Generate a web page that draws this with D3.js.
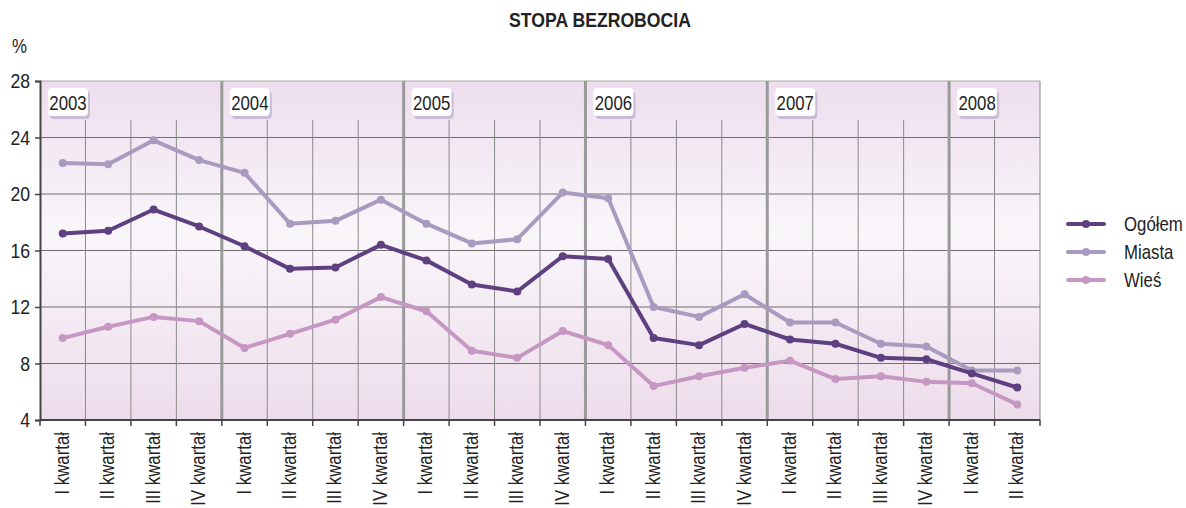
<!DOCTYPE html>
<html><head><meta charset="utf-8">
<script src="https://cdn.jsdelivr.net/npm/d3@7"></script>
<style>
body{margin:0;background:#fff;}
svg{display:block;}
text{font-family:"Liberation Sans",Arial,sans-serif;fill:#222;}
</style></head>
<body><svg id="chart" width="1186" height="508"></svg>
<script>
const years = ["2003","2004","2005","2006","2007","2008"];
const quarterLabels = ["I kwartał","II kwartał","III kwartał","IV kwartał"];
const categories = [
 "2003 I","2003 II","2003 III","2003 IV",
 "2004 I","2004 II","2004 III","2004 IV",
 "2005 I","2005 II","2005 III","2005 IV",
 "2006 I","2006 II","2006 III","2006 IV",
 "2007 I","2007 II","2007 III","2007 IV",
 "2008 I","2008 II"];
const ogolem = [17.2,17.4,18.9,17.7, 16.3,14.7,14.8,16.4, 15.3,13.6,13.1,15.6, 15.4,9.8,9.3,10.8, 9.7,9.4,8.4,8.3, 7.3,6.3];
const miasta = [22.2,22.1,23.8,22.4, 21.5,17.9,18.1,19.6, 17.9,16.5,16.8,20.1, 19.7,12.0,11.3,12.9, 10.9,10.9,9.4,9.2, 7.5,7.5];
const wies   = [9.8,10.6,11.3,11.0, 9.1,10.1,11.1,12.7, 11.7,8.9,8.4,10.3, 9.3,6.4,7.1,7.7, 8.2,6.9,7.1,6.7, 6.6,5.1];
const yTicks = [4,8,12,16,20,24,28];
const seriesNames = ["Ogółem","Miasta","Wieś"];
const seriesColors = ["#5e4080","#a99bc0","#c697c2"];

const svg = d3.select("#chart");
const L=40, R=1040, T=81, B=420;
const x = d3.scaleBand().domain(categories).range([L,R]).padding(0);
const y = d3.scaleLinear().domain([4,28]).range([B,T]);
const SX = 0.84;

function ntext(parent, tx, ty, str, size, anchor, extra){
  const t = parent.append("text")
    .attr("transform",`translate(${tx},${ty})${extra||""} scale(${SX},1)`)
    .attr("font-size",size).attr("text-anchor",anchor||"start").text(str);
  return t;
}

// background gradient
const defs = svg.append("defs");
const g = defs.append("linearGradient").attr("id","bg").attr("x1",0).attr("y1",0).attr("x2",0).attr("y2",1);
g.append("stop").attr("offset","0%").attr("stop-color","#eddeed");
g.append("stop").attr("offset","45%").attr("stop-color","#f9f6fa");
g.append("stop").attr("offset","100%").attr("stop-color","#eddcea");
svg.append("rect").attr("x",L).attr("y",T).attr("width",R-L).attr("height",B-T).attr("fill","url(#bg)");

// horizontal grid
svg.append("g").selectAll("line").data(yTicks.slice(1)).join("line")
 .attr("x1",L).attr("x2",R).attr("y1",d=>y(d)).attr("y2",d=>y(d))
 .attr("stroke",d=>d===28?"#aaa":"#6f6f6f").attr("stroke-width",1);

// vertical grid (quarter boundaries)
const bounds = categories.map(c=>x(c)).concat([R]);
svg.append("g").selectAll("line").data(bounds.slice(1)).join("line")
 .attr("x1",d=>d).attr("x2",d=>d).attr("y1",(d,i)=>((i+1)%4===0 || i===bounds.length-2)?T:120).attr("y2",B)
 .attr("stroke",(d,i)=>((i+1)%4===0)?"#9a9a9a":"#8a8a8a")
 .attr("stroke-width",(d,i)=>((i+1)%4===0)?3:1);

// year boxes
years.forEach((yr,i)=>{
  const bx = x(categories[i*4]) + 8;
  svg.append("rect").attr("x",bx+2).attr("y",91).attr("width",40).attr("height",28).attr("rx",4).attr("fill","#c9bcd8");
  svg.append("rect").attr("x",bx).attr("y",88).attr("width",40).attr("height",28).attr("rx",4).attr("fill","#fff");
  ntext(svg, bx+20, 110, yr, 20, "middle");
});

// axes
const yAxis = d3.axisLeft(y).tickValues(yTicks).tickSize(5).tickFormat("");
const ya = svg.append("g").attr("transform",`translate(${L},0)`).call(yAxis);
ya.select(".domain").attr("stroke","#444").attr("stroke-width",2);
ya.selectAll(".tick line").attr("stroke","#444").attr("stroke-width",1.5);
yTicks.forEach(v=>ntext(svg, 30, y(v)+7, String(v), 21, "end"));

const xa = svg.append("g").attr("transform",`translate(0,${B})`);
xa.append("line").attr("x1",L).attr("x2",R).attr("stroke","#444").attr("stroke-width",2);
xa.selectAll("line.t").data(bounds).join("line").attr("class","t")
 .attr("x1",d=>d).attr("x2",d=>d).attr("y1",0).attr("y2",6).attr("stroke","#444").attr("stroke-width",1.5);
categories.forEach((c,i)=>{
  ntext(xa, x(c)+x.bandwidth()/2+6, 12, quarterLabels[i%4], 20, "end", " rotate(-90)");
});

// lines
const line = d3.line().x((d,i)=>x(categories[i])+x.bandwidth()/2).y(d=>y(d));
const order=[2,1,0];
const allSeries=[ogolem,miasta,wies];
order.forEach(si=>{
  const data=allSeries[si];
  svg.append("path").datum(data).attr("d",line).attr("fill","none")
    .attr("stroke",seriesColors[si]).attr("stroke-width",4).attr("stroke-linejoin","round");
  svg.append("g").selectAll("circle").data(data).join("circle")
    .attr("cx",(d,i)=>x(categories[i])+x.bandwidth()/2).attr("cy",d=>y(d)).attr("r",4)
    .attr("fill",seriesColors[si]);
});

// title, unit
ntext(svg, 600, 27, "STOPA BEZROBOCIA", 21, "middle").attr("font-weight","bold");
ntext(svg, 12, 53, "%", 20, "start");

// legend
seriesNames.forEach((n,i)=>{
  const ly = 224 + i*28;
  svg.append("line").attr("x1",1068).attr("x2",1104).attr("y1",ly).attr("y2",ly).attr("stroke",seriesColors[i]).attr("stroke-width",4).attr("stroke-linecap","round");
  svg.append("circle").attr("cx",1086).attr("cy",ly).attr("r",4).attr("fill",seriesColors[i]);
  ntext(svg, 1124, ly+7, n, 20, "start");
});
</script></body></html>
